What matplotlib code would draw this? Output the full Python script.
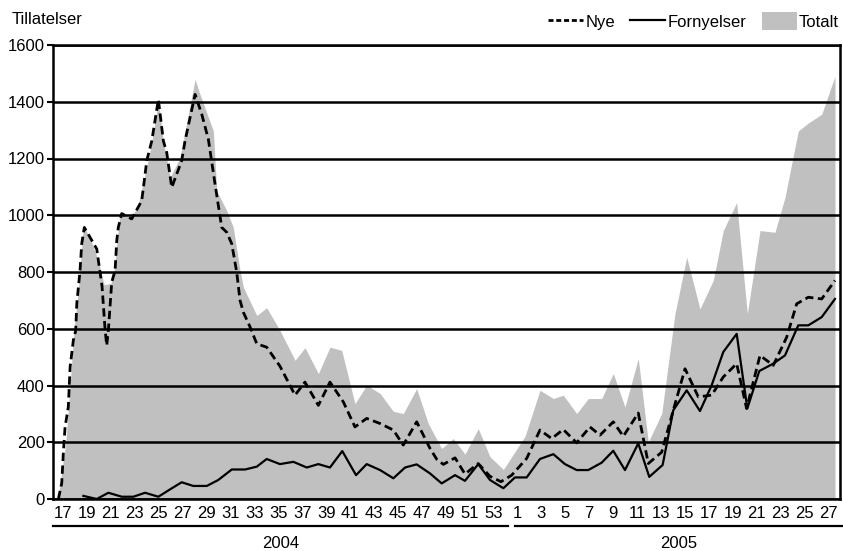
import matplotlib.pyplot as plt
from matplotlib.lines import Line2D
from matplotlib.patches import Patch

plt.rcParams['font.family'] = ['Liberation Sans', 'DejaVu Sans']
plt.rcParams['font.size'] = 12

# x = ukeindeks: 0 = uke 17 (2004), 36 = uke 53, 38 = uke 1 (2005), 64 = uke 27
nye_x = [-0.39, -0.11, 0.03, 0.17, 0.44, 0.59, 0.86, 1.06, 1.15, 1.42, 1.56, 1.78,
         2.26, 2.82, 3.09, 3.26, 3.51, 3.65, 3.79, 4.07, 4.35, 4.49, 4.62, 4.91,
         5.74, 6.58, 7.00, 7.42, 7.97, 8.39, 8.67, 9.09, 9.92, 10.20, 11.04, 11.60,
         12.15, 12.71, 13.27, 13.69, 14.11, 14.52, 14.80, 15.08, 15.64, 16.20, 17.03,
         18.14, 19.40, 20.23, 21.35, 22.32, 23.44, 24.41, 25.39, 26.51, 27.62, 28.45,
         29.57, 30.69, 31.25, 31.80, 32.78, 33.61, 34.72, 35.70, 36.62, 37.52, 38.77,
         39.88, 40.86, 41.83, 42.95, 44.06, 44.90, 46.01, 46.85, 48.10, 48.94, 50.06,
         51.03, 52.01, 53.12, 54.24, 55.21, 56.33, 57.16, 58.28, 59.39, 60.51, 61.35,
         62.32, 63.44, 64.55]
nye = [0, 56, 166, 254, 324, 465, 559, 594, 689, 805, 899, 957,
       922, 881, 800, 750, 600, 541, 594, 764, 805, 910, 957, 1006,
       987, 1051, 1192, 1262, 1408, 1262, 1221, 1098, 1192, 1262, 1426, 1356,
       1268, 1110, 957, 940, 899, 800, 700, 658, 606, 547, 535,
       468, 366, 412, 330, 412, 342, 254, 284, 266, 243, 190,
       272, 178, 140, 122, 145, 88, 125, 80, 61, 84, 143,
       243, 213, 245, 198, 254, 225, 272, 221, 303, 125, 165,
       313, 459, 360, 366, 430, 477, 319, 506, 471, 570, 688,
       711, 705, 770]

forn_x = [1.70, 2.82, 3.79, 4.91, 5.88, 6.86, 7.97, 8.95, 9.92, 10.89, 12.02, 12.98,
          14.11, 15.22, 16.20, 17.03, 18.14, 19.26, 20.38, 21.35, 22.32, 23.35, 24.50,
          25.39, 26.51, 27.62, 28.60, 29.57, 30.69, 31.66, 32.78, 33.61, 34.72, 35.70,
          36.82, 37.79, 38.77, 39.88, 41.00, 41.97, 42.95, 43.92, 45.04, 46.01, 46.99,
          48.10, 49.02, 50.14, 51.03, 52.15, 53.26, 54.24, 55.21, 56.33, 57.22, 58.22,
          59.39, 60.37, 61.48, 62.32, 63.44, 64.55]
forn = [11, 0, 22, 8, 8, 22, 8, 34, 59, 46, 46, 67,
        104, 104, 114, 141, 123, 131, 111, 123, 111, 169, 84,
        123, 102, 73, 111, 122, 90, 55, 84, 64, 123, 67,
        38, 76, 76, 141, 158, 123, 102, 102, 128, 170, 102,
        196, 78, 120, 313, 383, 310, 401, 518, 582, 319, 451,
        477, 506, 612, 612, 641, 705]

tot_x = [-0.42, 0.23, 0.59, 0.92, 1.28, 1.70, 2.26, 2.95, 3.43, 4.01, 4.26, 4.77,
         5.74, 6.30, 6.86, 7.42, 7.97, 8.39, 8.95, 9.78, 11.04, 11.45, 12.57, 12.85,
         13.69, 14.24, 14.80, 15.08, 16.20, 17.03, 18.14, 19.40, 20.23, 21.35, 22.32,
         23.30, 24.41, 25.39, 26.51, 27.62, 28.45, 29.57, 30.54, 31.66, 32.63, 33.61,
         34.72, 35.70, 36.82, 38.63, 39.88, 41.00, 41.83, 42.95, 43.92, 45.04, 46.01,
         46.99, 48.10, 48.94, 50.06, 51.17, 52.15, 53.26, 54.37, 55.21, 56.33, 57.22,
         58.28, 59.53, 60.37, 61.48, 62.32, 63.44, 64.55]
tot = [0, 200, 400, 600, 735, 963, 920, 840, 755, 760, 800, 1010,
       992, 1039, 1145, 1256, 1402, 1262, 1133, 1203, 1479, 1426, 1297, 1086,
       1016, 957, 805, 746, 647, 674, 594, 489, 533, 442, 535,
       524, 336, 401, 372, 309, 301, 389, 266, 178, 213, 158,
       248, 149, 104, 221, 383, 354, 366, 301, 354, 354, 442,
       324, 495, 201, 301, 653, 852, 670, 770, 946, 1045, 653,
       946, 940, 1063, 1297, 1325, 1356, 1490]

uker_2004 = list(range(17, 54, 2))
uker_2005 = list(range(1, 28, 2))

fig = plt.figure(figsize=(8.43, 5.51), dpi=100)
ax = fig.add_axes([53 / 843, 1 - 499 / 551, 787 / 843, 454 / 551])

ax.fill_between(tot_x, tot, color='#c0c0c0', lw=0, zorder=1)
ax.plot(forn_x, forn, color='black', lw=1.6, zorder=3)
ax.plot(nye_x, nye, color='black', lw=2.0, dashes=(3.0, 1.6), zorder=3)

ax.set_ylim(0, 1600)
ax.set_yticks(range(0, 1601, 200))
ax.set_xlim(-0.84, 64.97)

xt = [u - 17 for u in uker_2004] + [u + 37 for u in uker_2005]
xl = [str(u) for u in uker_2004] + [str(u) for u in uker_2005]
ax.set_xticks(xt)
ax.set_xticklabels(xl)
ax.tick_params(axis='x', length=0, pad=5, labelsize=12)
ax.tick_params(axis='y', length=4.5, width=1.5, pad=1.5, labelsize=12)

ax.set_axisbelow('line')
ax.yaxis.grid(True, color='black', lw=1.8)
for s in ax.spines.values():
    s.set_linewidth(1.8)

# årsgrupper under aksen
tr = ax.get_xaxis_transform()
ax.plot([-0.84, 37.2], [-0.0595, -0.0595], color='black', lw=1.6, transform=tr, clip_on=False)
ax.plot([37.8, 65.2], [-0.0595, -0.0595], color='black', lw=1.6, transform=tr, clip_on=False)
ax.text(18.2, -0.097, '2004', transform=tr, ha='center', va='center', fontsize=12)
ax.text(51.5, -0.097, '2005', transform=tr, ha='center', va='center', fontsize=12)

fig.text(12 / 843, 1 - 20 / 551, 'Tillatelser', ha='left', va='center', fontsize=12)

handles = [Line2D([], [], color='black', lw=2.0, dashes=(1.8, 1.0)),
           Line2D([], [], color='black', lw=1.6),
           Patch(facecolor='#c0c0c0', edgecolor='none')]
fig.legend(handles, ['Nye', 'Fornyelser', 'Totalt'], loc='center right',
           bbox_to_anchor=(839 / 843, 1 - 21 / 551), ncol=3, frameon=False,
           fontsize=12, handlelength=2.1, handleheight=1.2, handletextpad=0.15,
           columnspacing=0.9, borderpad=0, borderaxespad=0)

plt.savefig('out.png', dpi=100)
